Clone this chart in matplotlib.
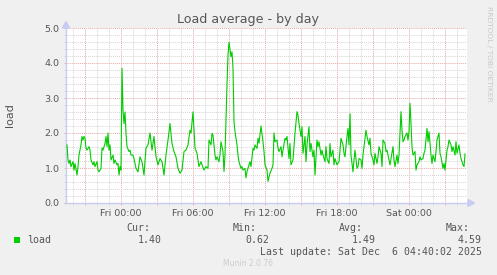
import matplotlib
matplotlib.use("Agg")
import matplotlib.pyplot as plt
from matplotlib.patches import Rectangle, Polygon
from matplotlib.ticker import MultipleLocator, FuncFormatter

# Load samples: minutes relative to Fri 00:00, and the load value
minutes = [
    -270, -265, -260, -255, -250, -240, -235, -230, -220, -215, -210, -200, -195, -190,
    -185, -180, -175, -170, -160, -155, -150, -140, -135, -130, -120, -115, -110, -100,
    -95, -90, -80, -75, -70, -65, -60, -55, -50, -40, -35, -30, -20, -15, -10, -5,
    0, 5, 10, 15, 20, 25, 30, 40, 45, 50, 60,
    65, 75, 85, 95, 105, 115, 125, 135, 145, 155, 165, 175, 185, 195, 205, 215, 225,
    235, 245, 255, 265, 275, 285, 295, 305, 315, 325, 335, 345, 350, 360, 370, 380, 390,
    400, 405, 415, 425, 435, 440, 450, 455, 460, 470, 475, 480, 490, 495, 500, 510, 515,
    520, 530, 535, 540, 550, 555, 560, 565, 570, 580, 585, 590, 600, 605, 610, 620, 625,
    630, 640, 645, 650, 660, 665, 670, 680, 685, 690, 700, 710, 715, 720, 730,
    735, 745, 755, 760, 765, 770, 780, 785, 790, 800, 805, 810, 820, 825, 830, 840, 845,
    850, 860, 865, 870, 880, 885, 890, 900, 905, 910, 920, 925, 930, 940, 945, 950, 960,
    965, 970, 980, 985, 990, 1000, 1005, 1010, 1020, 1025, 1030, 1040, 1045, 1050, 1060,
    1065, 1070, 1080,
    1090, 1095, 1100, 1110, 1115, 1120, 1130, 1135, 1140, 1145, 1150, 1160, 1165, 1170,
    1180, 1185, 1190, 1200, 1205, 1210, 1220, 1225, 1230, 1240, 1245, 1250, 1260, 1265,
    1270, 1280, 1285, 1290, 1300, 1305, 1310, 1320, 1325, 1330, 1340, 1345, 1350, 1360,
    1365, 1370, 1380, 1385, 1390, 1400, 1405, 1410,
    1415, 1420, 1430, 1435, 1440, 1445, 1450, 1455, 1460, 1470, 1475, 1480, 1490, 1495,
    1500, 1510, 1515, 1520, 1530, 1535, 1540, 1550, 1555, 1560, 1570, 1575, 1580, 1590,
    1595, 1600, 1610, 1615, 1620, 1630, 1635, 1640, 1650, 1655, 1660, 1670, 1675, 1680,
    1690, 1695, 1700, 1710, 1715, 1720,
]
load = [
    1.66, 1.23, 1.13, 1.23, 1.04, 1.18, 0.94, 1.13, 0.80, 1.04, 1.37, 1.66, 1.90, 1.80,
    1.90, 1.85, 1.57, 1.51, 1.61, 1.51, 1.23, 1.09, 1.18, 1.04, 1.18, 0.94, 0.89, 0.99,
    1.57, 1.51, 1.70, 1.90, 1.61, 2.00, 1.51, 1.66, 1.23, 1.37, 1.13, 1.23, 1.09, 1.13, 0.80, 1.04,
    0.94, 3.85, 2.65, 2.27, 2.60, 2.00, 1.61, 1.47, 1.51, 1.37, 1.37,
    1.27, 0.99, 0.89, 1.32, 1.18, 0.80, 1.57, 1.66, 2.00, 1.51, 1.90, 1.32, 1.09, 1.27, 1.18, 0.80, 1.37,
    1.80, 2.27, 1.70, 1.47, 1.32, 0.99, 0.85, 0.94, 1.47, 1.51, 1.66, 2.08, 2.00, 2.60, 1.57, 1.42, 1.04,
    1.18, 1.09, 0.94, 1.04, 0.99, 1.80, 1.66, 1.99, 1.94, 1.37, 1.23, 1.32, 1.18, 1.37, 1.75, 1.47, 0.90,
    1.37, 3.37, 4.23, 4.59, 4.18, 4.32, 3.85, 2.32, 2.04, 1.66, 1.37, 1.18, 0.99, 1.04, 0.94, 0.99, 0.72,
    0.90, 1.09, 1.18, 1.04, 1.56, 1.51, 1.66, 1.56, 1.85, 1.71, 2.20, 1.75, 1.47, 1.09, 0.94,
    0.62, 0.85, 0.99, 1.09, 2.00, 1.75, 1.80, 1.57, 1.47, 1.61, 1.32, 1.51, 1.85, 1.80, 1.90, 1.27, 1.70,
    1.09, 1.23, 1.61, 2.00, 2.61, 2.51, 2.27, 1.90, 2.18, 1.42, 1.90, 1.18, 1.66, 2.18, 1.47, 1.70, 1.32,
    1.51, 0.80, 1.80, 1.61, 1.75, 1.37, 1.51, 1.37, 1.18, 1.61, 1.27, 1.13, 1.70, 1.32, 1.51,
    1.09, 1.27, 1.09,
    1.18, 1.51, 1.85, 1.66, 1.42, 1.32, 1.90, 2.13, 1.66, 2.55, 1.37, 0.89, 1.23, 1.51,
    0.99, 1.04, 1.27, 1.23, 0.99, 1.37, 1.85, 2.08, 1.90, 1.66, 1.85, 1.42, 1.23, 1.09,
    1.42, 1.13, 1.32, 1.61, 1.42, 1.04, 1.80, 1.70, 1.47, 1.51, 1.23, 1.09, 1.27, 1.61,
    1.23, 1.04, 1.37, 1.13, 1.37, 2.61, 2.08, 1.75,
    1.80, 1.90, 2.00, 1.80, 2.04, 2.85, 2.27, 1.61, 1.37, 1.47, 0.94, 1.09, 1.18, 1.32,
    1.23, 1.27, 1.42, 1.51, 2.13, 1.75, 2.04, 1.37, 1.13, 1.37, 1.18, 1.47, 1.80, 2.00,
    1.42, 1.32, 0.99, 1.13, 0.94, 1.51, 1.61, 1.80, 1.66, 1.47, 1.61, 1.37, 1.75, 1.42,
    1.66, 1.42, 1.27, 1.09, 1.04, 1.40,
]

# x axis labels (minutes from Fri 00:00)
tick_minutes = [0, 360, 720, 1080, 1440]
tick_labels = ["Fri 00:00", "Fri 06:00", "Fri 12:00", "Fri 18:00", "Sat 00:00"]

# legend statistics as printed by munin
stat_names = ["Cur:", "Min:", "Avg:", "Max:"]
stat_values = ["1.40", "0.62", "1.49", "4.59"]
last_update = "Last update: Sat Dec  6 04:40:02 2025"

W, H = 497, 275
BG = "#F0F0F0"
TEXT = "#555555"
AXIS = "#C8CCF2"
MAJOR = "#E8A8A8"
MINOR = "#D4D4D4"
GREEN = "#00CC00"


def fx(px):
    return px / W


def fy(py):
    return 1 - py / H


fig = plt.figure(figsize=(W / 100, H / 100), dpi=100, facecolor=BG)
ax = fig.add_axes([fx(66), fy(203), fx(467) - fx(66), fy(28) - fy(203)])
ax.set_facecolor("white")

ax.plot(minutes, load, color=GREEN, lw=0.8, zorder=3)
ax.set_xlim(-275, 1730)
ax.set_ylim(0, 5)

# grid: red dotted every 3h / 1.0, grey dotted every 1h / 0.2
label_map = dict(zip(tick_minutes, tick_labels))
ax.xaxis.set_major_locator(MultipleLocator(180))
ax.xaxis.set_minor_locator(MultipleLocator(60))
ax.xaxis.set_major_formatter(FuncFormatter(lambda v, p: label_map.get(int(round(v)), "")))
ax.yaxis.set_major_locator(MultipleLocator(1))
ax.yaxis.set_minor_locator(MultipleLocator(0.2))
ax.yaxis.set_major_formatter(FuncFormatter(lambda v, p: "%.1f" % v))

ax.set_axisbelow(True)
ax.grid(which="major", color=MAJOR, linestyle=(0, (1, 1)), lw=0.7)
ax.grid(which="minor", color=MINOR, linestyle=(0, (1, 1)), lw=0.7)

ax.tick_params(which="major", length=1.5, width=0.7, color=MAJOR,
               labelcolor=TEXT, labelsize=6.8)
ax.tick_params(which="minor", length=1.5, width=0.7, color=MINOR)
ax.tick_params(axis="x", pad=2.5)
ax.tick_params(axis="y", pad=3)

for side in ["top", "right"]:
    ax.spines[side].set_visible(False)
for side in ["left", "bottom"]:
    ax.spines[side].set_color(AXIS)
    ax.spines[side].set_linewidth(1.0)

# axis arrow heads
fig.add_artist(Polygon([(fx(468), fy(199.5)), (fx(468), fy(206.5)), (fx(474.5), fy(203))],
                       closed=True, color=AXIS, transform=fig.transFigure))
fig.add_artist(Polygon([(fx(62.5), fy(28)), (fx(69.5), fy(28)), (fx(66), fy(21.5))],
                       closed=True, color=AXIS, transform=fig.transFigure))

# titles
fig.text(fx(248), fy(19), "Load average - by day", ha="center", va="center",
         fontsize=9.1, color=TEXT)
fig.text(fx(10), fy(115), "load", rotation=90, ha="center", va="center",
         fontsize=8, color=TEXT)
fig.text(fx(488.5), fy(53.5), "RRDTOOL / TOBI OETIKER", rotation=270, ha="center",
         va="center", fontsize=5.4, color="#C8C8C8")

# legend
mono = dict(family="DejaVu Sans Mono", fontsize=7.1, color=TEXT, va="center")
fig.add_artist(Rectangle((fx(14), fy(243)), 6 / W, 6 / H, facecolor=GREEN,
                         edgecolor="none", transform=fig.transFigure))
fig.text(fx(27), fy(240), "load", ha="left", **mono)
name_x = [150, 257, 363, 470]
value_x = [162, 269, 376, 482]
for name, value, nx, vx in zip(stat_names, stat_values, name_x, value_x):
    fig.text(fx(nx), fy(228), name, ha="right", **mono)
    fig.text(fx(vx), fy(240), value, ha="right", **mono)
fig.text(fx(482), fy(252), last_update, ha="right", **mono)

fig.text(fx(248), fy(264), "Munin 2.0.76", ha="center", va="center",
         fontsize=5.5, color="#CCCCCC")

fig.savefig("out.png", dpi=100, facecolor=BG)
